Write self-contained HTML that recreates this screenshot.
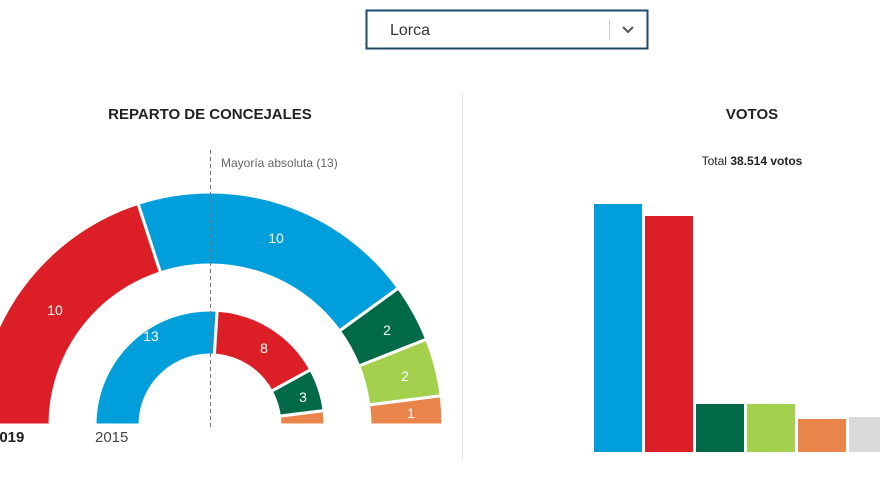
<!DOCTYPE html>
<html><head><meta charset="utf-8"><style>
html,body{margin:0;padding:0;background:#fff;width:880px;height:495px;overflow:hidden;font-family:"Liberation Sans",sans-serif}
</style></head><body>
<svg width="880" height="495" xmlns="http://www.w3.org/2000/svg" font-family="Liberation Sans, sans-serif">
<rect x="366.5" y="10.5" width="281" height="38" fill="#fff" stroke="#1d4a6b" stroke-width="2"/>
<text x="390" y="35" font-size="16" fill="#333">Lorca</text>
<line x1="609.5" y1="20" x2="609.5" y2="40" stroke="#ccc"/>
<polyline points="623,27 628,32 633,27" fill="none" stroke="#555" stroke-width="2"/>
<text x="210" y="119" font-size="15" font-weight="bold" text-anchor="middle" fill="#222">REPARTO DE CONCEJALES</text>
<text x="752" y="119" font-size="15" font-weight="bold" text-anchor="middle" fill="#222">VOTOS</text>
<text x="752" y="165" font-size="12" text-anchor="middle" fill="#222">Total <tspan font-weight="bold">38.514 votos</tspan></text>
<text x="221" y="167" font-size="12" fill="#666">Mayoría absoluta (13)</text>
<g stroke="#fff" stroke-width="3">
<path d="M-23,425 A233,233 0 0 1 138,203.4 L160.6,272.8 A160,160 0 0 0 50,425 Z" fill="#dc1f26"/>
<path d="M138,203.4 A233,233 0 0 1 398.5,288 L339.4,331 A160,160 0 0 0 160.6,272.8 Z" fill="#009fdb"/>
<path d="M398.5,288 A233,233 0 0 1 426.6,339.2 L358.8,366.1 A160,160 0 0 0 339.4,331 Z" fill="#006a48"/>
<path d="M426.6,339.2 A233,233 0 0 1 441.2,395.8 L368.7,405 A160,160 0 0 0 358.8,366.1 Z" fill="#a3d04d"/>
<path d="M441.2,395.8 A233,233 0 0 1 443,425 L370,425 A160,160 0 0 0 368.7,405 Z" fill="#e9844a"/>
<path d="M95,425 A115,115 0 0 1 217.2,310.2 L214.4,355.1 A70,70 0 0 0 140,425 Z" fill="#009fdb"/>
<path d="M217.2,310.2 A115,115 0 0 1 310.8,369.6 L271.3,391.3 A70,70 0 0 0 214.4,355.1 Z" fill="#dc1f26"/>
<path d="M310.8,369.6 A115,115 0 0 1 324.1,410.6 L279.4,416.2 A70,70 0 0 0 271.3,391.3 Z" fill="#006a48"/>
<path d="M324.1,410.6 A115,115 0 0 1 325,425 L280,425 A70,70 0 0 0 279.4,416.2 Z" fill="#e9844a"/>
</g>
<rect x="0" y="425" width="880" height="70" fill="#fff"/>
<line x1="462.5" y1="93" x2="462.5" y2="460" stroke="#e6e6e6"/>
<line x1="210.5" y1="150" x2="210.5" y2="428" stroke="#777" stroke-dasharray="4,3"/>
<g fill="#fff" font-size="14" text-anchor="middle">
<text x="55" y="315">10</text><text x="276" y="243">10</text>
<text x="387" y="335">2</text><text x="405" y="381">2</text><text x="411" y="418">1</text>
<text x="151" y="341">13</text><text x="264" y="353">8</text><text x="303" y="402">3</text>
</g>
<text x="-9" y="442" font-size="15" font-weight="bold" fill="#222">2019</text>
<text x="95" y="442" font-size="15" fill="#444">2015</text>
<rect x="594" y="204" width="48" height="248" fill="#009fdb"/>
<rect x="645" y="216" width="48" height="236" fill="#dc1f26"/>
<rect x="696" y="404" width="48" height="48" fill="#006a48"/>
<rect x="747" y="404" width="48" height="48" fill="#a3d04d"/>
<rect x="798" y="419" width="48" height="33" fill="#e9844a"/>
<rect x="849" y="417" width="48" height="35" fill="#d9d9d9"/>
</svg>
</body></html>
